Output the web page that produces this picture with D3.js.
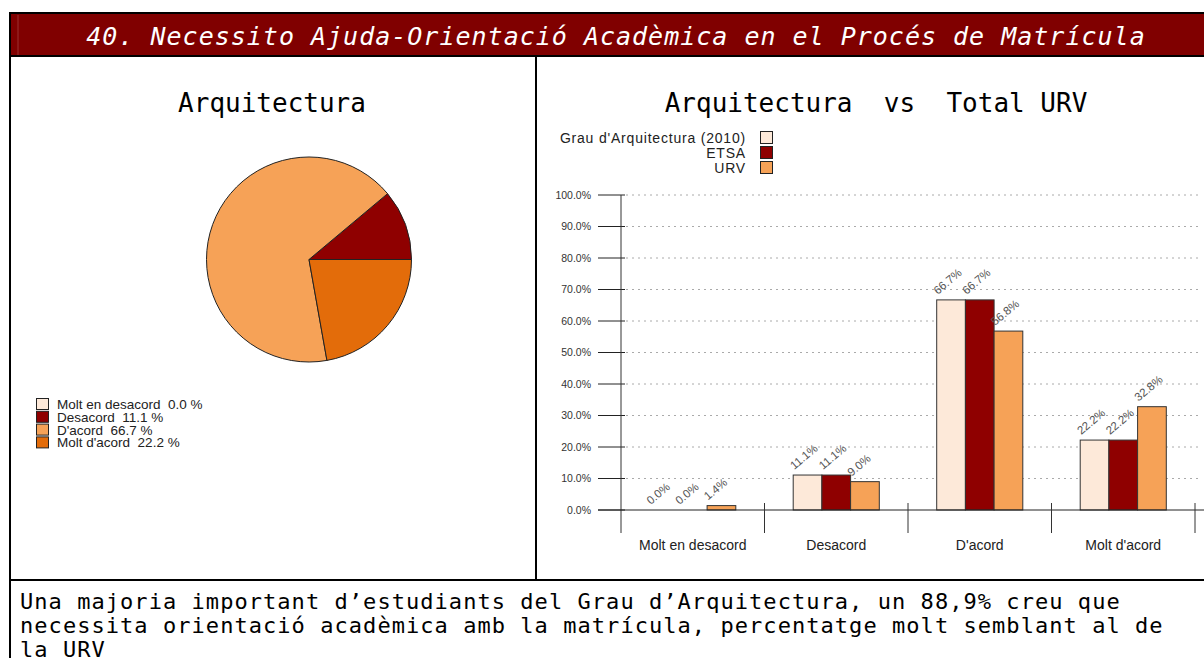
<!DOCTYPE html>
<html>
<head>
<meta charset="utf-8">
<script src="https://cdn.jsdelivr.net/npm/d3@7"></script>
<style>
  html, body { margin: 0; padding: 0; background: #fff; }
  svg text { white-space: pre; }
</style>
</head>
<body>
<div id="chart"></div>
<script>
//Dades
const categories = ['Molt en desacord', 'Desacord', "D'acord", "Molt d'acord"];
const seriesNames = ["Grau d'Arquitectura (2010)", 'ETSA', 'URV'];
const grauValues = [0.0, 11.1, 66.7, 22.2];
const etsaValues = [0.0, 11.1, 66.7, 22.2];
const urvValues = [1.4, 9.0, 56.8, 32.8];
const pieValues = [0.0, 11.1, 66.7, 22.2];
const yTickValues = [0, 10, 20, 30, 40, 50, 60, 70, 80, 90, 100];

const mainTitle = '40. Necessito Ajuda-Orientació Acadèmica en el Procés de Matrícula';
const leftTitle = 'Arquitectura';
const rightTitle = 'Arquitectura  vs  Total URV';
const commentLines = [
    'Una majoria important d\u2019estudiants del Grau d\u2019Arquitectura, un 88,9% creu que',
    'necessita orientació acadèmica amb la matrícula, percentatge molt semblant al de',
    'la URV'
];

const PIE_COLORS = ['#FDE9D9', '#8F0000', '#F6A257', '#E36C0A'];
const BAR_COLORS = ['#FDE9D9', '#8F0000', '#F6A257'];
const MONO = '"DejaVu Sans Mono", monospace';
const SANS = '"Liberation Sans", Arial, sans-serif';

let W = 1204, H = 658;

let svg = d3.select('#chart')
    .append('svg')
    .attr('width', W)
    .attr('height', H);

//Marc i capçalera
svg.append('rect')
    .attr('x', 10).attr('y', 14)
    .attr('width', W - 10).attr('height', 42)
    .attr('fill', '#800000');

svg.append('line')
    .attr('x1', 18).attr('x2', 18).attr('y1', 15).attr('y2', 55)
    .attr('stroke', '#9a3030').attr('stroke-width', 1);

svg.append('text')
    .attr('x', 616).attr('y', 45)
    .attr('text-anchor', 'middle')
    .attr('font-family', MONO)
    .attr('font-style', 'italic')
    .attr('font-size', 25)
    .attr('letter-spacing', 1)
    .attr('fill', '#fff')
    .text(mainTitle);

let frame = svg.append('g')
    .attr('stroke', '#000')
    .attr('stroke-width', 2);

frame.append('line').attr('x1', 10).attr('x2', W).attr('y1', 13).attr('y2', 13);
frame.append('line').attr('x1', 10).attr('x2', W).attr('y1', 56).attr('y2', 56);
frame.append('line').attr('x1', 10).attr('x2', W).attr('y1', 580).attr('y2', 580);
frame.append('line').attr('x1', 10).attr('x2', 10).attr('y1', 12).attr('y2', H);
frame.append('line').attr('x1', 536).attr('x2', 536).attr('y1', 56).attr('y2', 580);

//Títols
svg.append('text')
    .attr('x', 272).attr('y', 112)
    .attr('text-anchor', 'middle')
    .attr('font-family', MONO)
    .attr('font-size', 26)
    .attr('fill', '#000')
    .text(leftTitle);

svg.append('text')
    .attr('x', 876).attr('y', 112)
    .attr('text-anchor', 'middle')
    .attr('font-family', MONO)
    .attr('font-size', 26)
    .attr('fill', '#000')
    .text(rightTitle);

//Pastís (sentit antihorari des de les 3)
let pie = d3.pie()
    .sort(null)
    .startAngle(Math.PI / 2)
    .endAngle(Math.PI / 2 - 2 * Math.PI);

let arc = d3.arc()
    .innerRadius(0)
    .outerRadius(102.5);

svg.append('g')
    .attr('transform', 'translate(309,259.5)')
    .selectAll('path')
    .data(pie(pieValues))
    .enter()
    .append('path')
    .attr('d', arc)
    .attr('fill', function(d, i) { return PIE_COLORS[i]; })
    .attr('stroke', '#222')
    .attr('stroke-width', function(d) { return d.value > 0 ? 1 : 0; });

//Llegenda del pastís
let pieLegend = svg.append('g')
    .attr('transform', 'translate(36,398)');

pieLegend.selectAll('rect')
    .data(categories)
    .enter()
    .append('rect')
    .attr('x', 0.5)
    .attr('y', function(d, i) { return i * 12.8 + 0.5; })
    .attr('width', 12).attr('height', 11)
    .attr('fill', function(d, i) { return PIE_COLORS[i]; })
    .attr('stroke', '#222');

pieLegend.selectAll('text')
    .data(categories)
    .enter()
    .append('text')
    .attr('x', 21)
    .attr('y', function(d, i) { return i * 12.8 + 11; })
    .attr('font-family', SANS)
    .attr('font-size', 13.5)
    .attr('fill', '#222')
    .text(function(d, i) { return d + '  ' + pieValues[i].toFixed(1) + ' %'; });

//Gràfic de barres
let barData = categories.map(function(c, i) {
    return { cat: c, values: [grauValues[i], etsaValues[i], urvValues[i]] };
});

let y = d3.scaleLinear()
    .domain([0, 100])
    .range([510, 195]);

let x0 = d3.scaleBand()
    .domain(categories)
    .range([621, 1195]);

let x1 = d3.scaleBand()
    .domain(seriesNames)
    .range([x0.bandwidth() * 0.2, x0.bandwidth() * 0.8]);

//Eix Y
let yAxis = svg.append('g');

yAxis.selectAll('.grid')
    .data(yTickValues)
    .enter()
    .append('line')
    .attr('x1', 626).attr('x2', 1200)
    .attr('y1', function(d) { return y(d); })
    .attr('y2', function(d) { return y(d); })
    .attr('stroke', function(d) { return d == 0 ? 'none' : '#aaa'; })
    .attr('stroke-dasharray', '2,4');

yAxis.selectAll('.tick')
    .data(yTickValues)
    .enter()
    .append('line')
    .attr('x1', 598).attr('x2', 625)
    .attr('y1', function(d) { return y(d); })
    .attr('y2', function(d) { return y(d); })
    .attr('stroke', '#222');

yAxis.selectAll('text')
    .data(yTickValues)
    .enter()
    .append('text')
    .attr('x', 591)
    .attr('y', function(d) { return y(d) + 3.5; })
    .attr('text-anchor', 'end')
    .attr('font-family', SANS)
    .attr('font-size', 10.5)
    .attr('fill', '#333')
    .text(function(d) { return d.toFixed(1) + '%'; });

yAxis.append('line')
    .attr('x1', 621).attr('x2', 621)
    .attr('y1', y(100)).attr('y2', 533)
    .attr('stroke', '#333');

//Barres
let groups = svg.append('g')
    .selectAll('g')
    .data(barData)
    .enter()
    .append('g')
    .attr('transform', function(d) { return 'translate(' + x0(d.cat) + ',0)'; });

groups.selectAll('rect')
    .data(function(d) { return d.values; })
    .enter()
    .append('rect')
    .attr('x', function(d, i) { return x1(seriesNames[i]); })
    .attr('y', function(d) { return y(d); })
    .attr('width', x1.bandwidth())
    .attr('height', function(d) { return y(0) - y(d); })
    .attr('fill', function(d, i) { return BAR_COLORS[i]; })
    .attr('stroke', '#333')
    .attr('stroke-width', 1);

groups.selectAll('text')
    .data(function(d) { return d.values; })
    .enter()
    .append('text')
    .attr('transform', function(d, i) {
        return 'translate(' + (x1(seriesNames[i]) + 1) + ',' + (y(d) - 5) + ') rotate(-40)';
    })
    .attr('font-family', SANS)
    .attr('font-size', 11.5)
    .attr('fill', '#555')
    .text(function(d) { return d.toFixed(1) + '%'; });

//Eix X
let xAxis = svg.append('g');

xAxis.append('line')
    .attr('x1', 598).attr('x2', W)
    .attr('y1', y(0)).attr('y2', y(0))
    .attr('stroke', '#222');

xAxis.selectAll('.sep')
    .data(categories.slice(1).concat(['__end']))
    .enter()
    .append('line')
    .attr('x1', function(d) { return d == '__end' ? x0.range()[1] : x0(d); })
    .attr('x2', function(d) { return d == '__end' ? x0.range()[1] : x0(d); })
    .attr('y1', 503).attr('y2', 533)
    .attr('stroke', '#333');

xAxis.selectAll('text')
    .data(categories)
    .enter()
    .append('text')
    .attr('x', function(d) { return x0(d) + x0.bandwidth() / 2; })
    .attr('y', 550)
    .attr('text-anchor', 'middle')
    .attr('font-family', SANS)
    .attr('font-size', 14)
    .attr('fill', '#222')
    .text(function(d) { return d; });

//Llegenda de barres
let barLegend = svg.append('g')
    .attr('transform', 'translate(760,131)');

barLegend.selectAll('rect')
    .data(seriesNames)
    .enter()
    .append('rect')
    .attr('x', 0.5)
    .attr('y', function(d, i) { return i * 15 + 0.5; })
    .attr('width', 12).attr('height', 12)
    .attr('fill', function(d, i) { return BAR_COLORS[i]; })
    .attr('stroke', '#222');

barLegend.selectAll('text')
    .data(seriesNames)
    .enter()
    .append('text')
    .attr('x', -14)
    .attr('y', function(d, i) { return i * 15 + 12; })
    .attr('text-anchor', 'end')
    .attr('font-family', SANS)
    .attr('font-size', 14)
    .attr('letter-spacing', 0.8)
    .attr('fill', '#222')
    .text(function(d) { return d; });

//Comentari
svg.append('g')
    .selectAll('text')
    .data(commentLines)
    .enter()
    .append('text')
    .attr('x', 20)
    .attr('y', function(d, i) { return 609 + i * 24; })
    .attr('font-family', MONO)
    .attr('font-size', 22)
    .attr('letter-spacing', 1.05)
    .attr('fill', '#000')
    .text(function(d) { return d; });
</script>
</body>
</html>
